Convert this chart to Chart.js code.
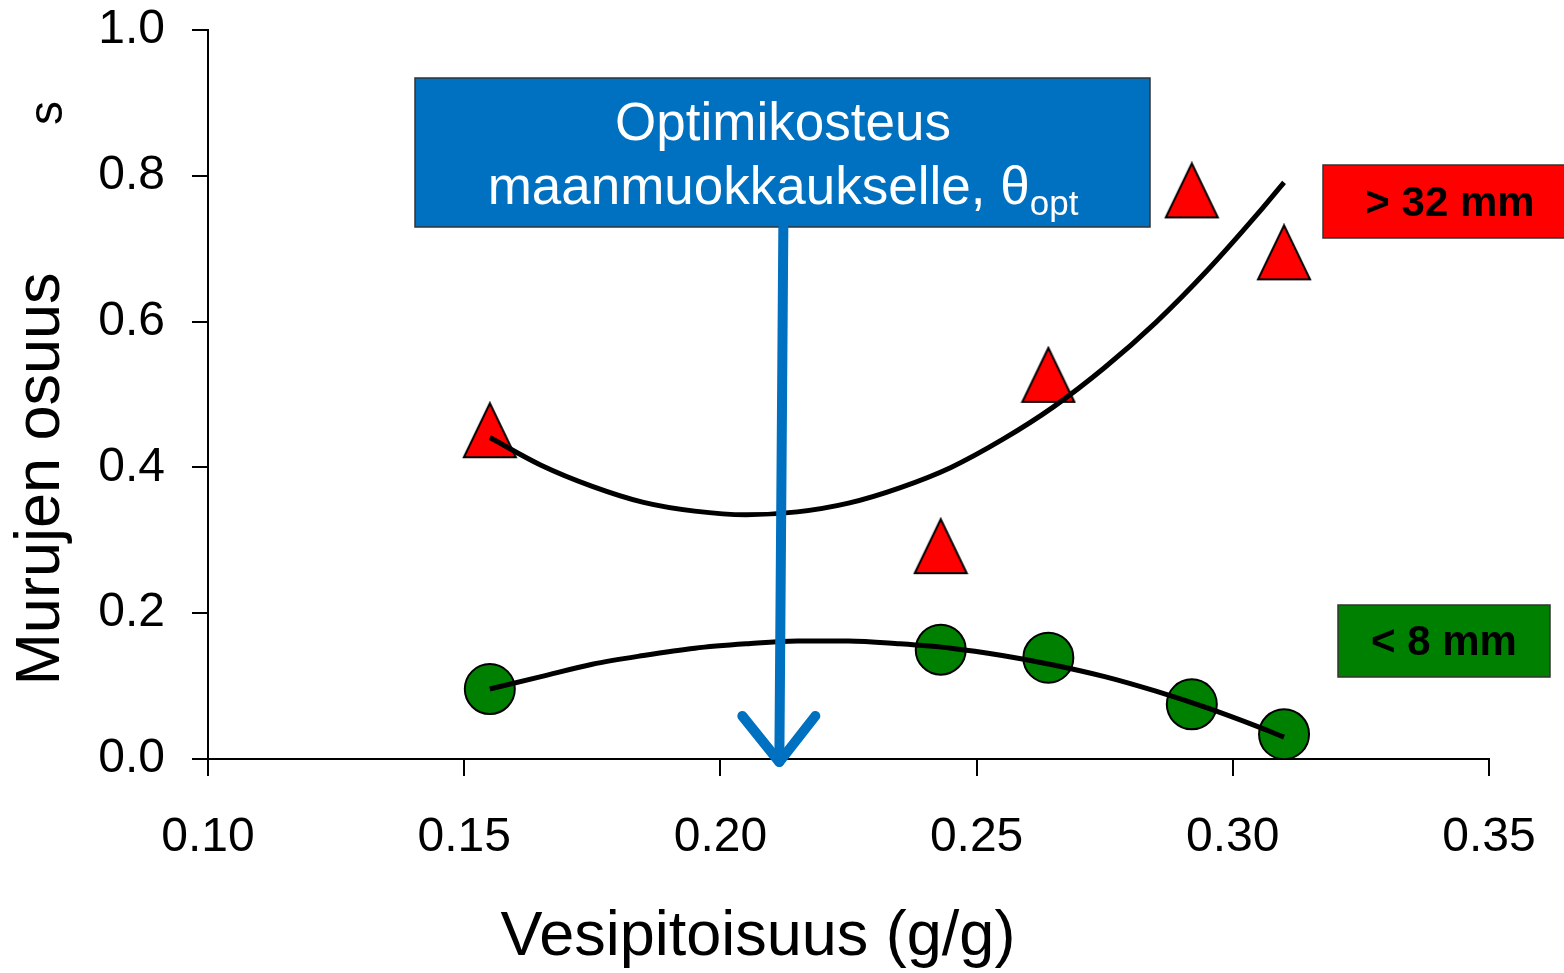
<!DOCTYPE html>
<html>
<head>
<meta charset="utf-8">
<script src="https://cdn.jsdelivr.net/npm/chart.js@4/dist/chart.umd.min.js"></script>
<style>
  html, body { margin: 0; padding: 0; background: #fff; }
  canvas { display: block; }
</style>
</head>
<body>
<canvas id="crumb-chart" width="1564" height="973"></canvas>
<script>
  'use strict';

  // Measured samples: water content (g/g) vs. share of crumbs
  const waterContent = [0.155, 0.243, 0.264, 0.292, 0.310];
  const coarseShare = [0.451, 0.292, 0.527, 0.780, 0.695]; // > 32 mm
  const fineShare = [0.096, 0.150, 0.139, 0.075, 0.034];   // < 8 mm

  // Trend lines
  const fitWater = [0.155, 0.165, 0.175, 0.185, 0.195, 0.205, 0.215, 0.225, 0.235,
    0.245, 0.255, 0.265, 0.275, 0.285, 0.295, 0.305, 0.310];
  const coarseFit = [0.441, 0.403, 0.374, 0.352, 0.340, 0.335, 0.339, 0.351, 0.372,
    0.400, 0.438, 0.483, 0.537, 0.599, 0.670, 0.749, 0.791];
  const fineFit = [0.096, 0.113, 0.130, 0.142, 0.152, 0.158, 0.162, 0.162, 0.158,
    0.152, 0.142, 0.129, 0.113, 0.093, 0.070, 0.044, 0.030];

  // Optimum water content the arrow points to
  const thetaOpt = 0.2115;

  // Axis ticks
  const xTickValues = [0.10, 0.15, 0.20, 0.25, 0.30, 0.35];
  const xTickLabels = ['0.10', '0.15', '0.20', '0.25', '0.30', '0.35'];
  const yTickValues = [0.0, 0.2, 0.4, 0.6, 0.8, 1.0];
  const yTickLabels = ['0.0', '0.2', '0.4', '0.6', '0.8', '1.0'];

  const xTitle = 'Vesipitoisuus (g/g)';
  const yTitle = 'Murujen osuus';

  const FONT = '"Liberation Sans", Arial, sans-serif';
  const BLUE = '#0070C0';

  function toPoints(xs, ys) {
    return xs.map((x, i) => ({ x: x, y: ys[i] }));
  }

  // Red triangle marker, a bit narrower than Chart.js' own triangle
  function makeTriangle() {
    const c = document.createElement('canvas');
    c.width = 56;
    c.height = 58;
    const g = c.getContext('2d');
    g.beginPath();
    g.moveTo(28, 2);
    g.lineTo(54, 56);
    g.lineTo(2, 56);
    g.closePath();
    g.fillStyle = '#FF0000';
    g.fill();
    g.lineWidth = 2;
    g.strokeStyle = '#000';
    g.stroke();
    return c;
  }

  const annotations = {
    id: 'annotations',
    afterDraw(chart) {
      const ctx = chart.ctx;
      const xScale = chart.scales.x;
      const yScale = chart.scales.y;
      ctx.save();

      // axis titles (off-centre in the original, so placed by hand)
      ctx.fillStyle = '#000';
      ctx.font = '63px ' + FONT;
      ctx.textAlign = 'center';
      ctx.textBaseline = 'middle';
      ctx.fillText(xTitle, 758, 938);

      ctx.save();
      ctx.translate(42, 479);
      ctx.rotate(-Math.PI / 2);
      ctx.fillText(yTitle, 0, 0);
      ctx.restore();

      // small rotated "s" left of the axis
      ctx.save();
      ctx.translate(49, 113);
      ctx.rotate(-Math.PI / 2);
      ctx.font = '48px ' + FONT;
      ctx.fillText('s', 0, 0);
      ctx.restore();

      // blue text box
      ctx.fillStyle = BLUE;
      ctx.fillRect(415, 78, 735, 149);
      ctx.lineWidth = 1.5;
      ctx.strokeStyle = '#333';
      ctx.strokeRect(415, 78, 735, 149);

      ctx.fillStyle = '#fff';
      ctx.textBaseline = 'alphabetic';
      ctx.textAlign = 'center';
      ctx.font = '53px ' + FONT;
      ctx.fillText('Optimikosteus', 783, 140);

      const main = 'maanmuokkaukselle, \u03b8';
      const sub = 'opt';
      ctx.font = '53px ' + FONT;
      const wMain = ctx.measureText(main).width;
      ctx.font = '35px ' + FONT;
      const wSub = ctx.measureText(sub).width;
      const startX = 783 - (wMain + wSub) / 2;
      ctx.textAlign = 'left';
      ctx.font = '53px ' + FONT;
      ctx.fillText(main, startX, 204);
      ctx.font = '35px ' + FONT;
      ctx.fillText(sub, startX + wMain, 215);

      // arrow down to the optimum
      const tipX = xScale.getPixelForValue(thetaOpt);
      const tipY = yScale.getPixelForValue(0) + 3;
      ctx.strokeStyle = BLUE;
      ctx.lineWidth = 10;
      ctx.lineCap = 'round';
      ctx.lineJoin = 'round';
      ctx.beginPath();
      ctx.moveTo(tipX + 4, 228);
      ctx.lineTo(tipX, tipY);
      ctx.stroke();
      ctx.beginPath();
      ctx.moveTo(tipX - 37, tipY - 46);
      ctx.lineTo(tipX, tipY);
      ctx.lineTo(tipX + 36, tipY - 46);
      ctx.stroke();

      // legend boxes
      ctx.lineCap = 'butt';
      ctx.lineJoin = 'miter';
      ctx.lineWidth = 1.5;
      ctx.strokeStyle = '#333';
      ctx.fillStyle = '#FF0000';
      ctx.fillRect(1323, 165, 260, 73);
      ctx.strokeRect(1323, 165, 260, 73);
      ctx.fillStyle = '#008000';
      ctx.fillRect(1338, 605, 212, 72);
      ctx.strokeRect(1338, 605, 212, 72);

      ctx.fillStyle = '#000';
      ctx.font = 'bold 42px ' + FONT;
      ctx.textAlign = 'center';
      ctx.textBaseline = 'middle';
      ctx.fillText('> 32 mm', 1450, 204);
      ctx.fillText('< 8 mm', 1444, 643);

      ctx.restore();
    }
  };

  const ctx = document.getElementById('crumb-chart').getContext('2d');

  new Chart(ctx, {
    type: 'scatter',
    data: {
      datasets: [
        {
          label: '> 32 mm trend',
          data: toPoints(fitWater, coarseFit),
          showLine: true,
          borderColor: '#000',
          borderWidth: 5,
          pointRadius: 0,
          cubicInterpolationMode: 'monotone',
          order: 1
        },
        {
          label: '< 8 mm trend',
          data: toPoints(fitWater, fineFit),
          showLine: true,
          borderColor: '#000',
          borderWidth: 5,
          pointRadius: 0,
          cubicInterpolationMode: 'monotone',
          order: 1
        },
        {
          label: '> 32 mm',
          data: toPoints(waterContent, coarseShare),
          pointStyle: makeTriangle(),
          pointRadius: 28,
          order: 2
        },
        {
          label: '< 8 mm',
          data: toPoints(waterContent, fineShare),
          pointStyle: 'circle',
          pointRadius: 25,
          backgroundColor: '#008000',
          borderColor: '#000',
          borderWidth: 2,
          order: 2
        }
      ]
    },
    options: {
      responsive: false,
      devicePixelRatio: 1,
      animation: false,
      layout: {
        padding: { left: 0, top: 30, right: 75, bottom: 0 }
      },
      plugins: {
        legend: { display: false },
        tooltip: { enabled: false }
      },
      scales: {
        x: {
          type: 'linear',
          min: 0.10,
          max: 0.35,
          afterFit: function (scale) {
            scale.height = 214;
            scale.paddingLeft = 0;
            scale.paddingRight = 0;
          },
          afterBuildTicks: function (scale) {
            scale.ticks = xTickValues.map(v => ({ value: v }));
          },
          border: { color: '#000', width: 2 },
          grid: {
            drawOnChartArea: false,
            drawTicks: true,
            tickLength: 17,
            color: '#000',
            lineWidth: 2
          },
          ticks: {
            color: '#000',
            padding: 33,
            maxRotation: 0,
            font: { family: FONT, size: 48 },
            callback: function (value, index) { return xTickLabels[index]; }
          }
        },
        y: {
          type: 'linear',
          min: 0,
          max: 1,
          afterFit: function (scale) {
            scale.width = 208;
            scale.paddingTop = 0;
            scale.paddingBottom = 0;
          },
          afterBuildTicks: function (scale) {
            scale.ticks = yTickValues.map(v => ({ value: v }));
          },
          border: { color: '#000', width: 2 },
          grid: {
            drawOnChartArea: false,
            drawTicks: true,
            tickLength: 16,
            color: '#000',
            lineWidth: 2
          },
          ticks: {
            color: '#000',
            padding: 27,
            font: { family: FONT, size: 48 },
            callback: function (value, index) { return yTickLabels[index]; }
          }
        }
      }
    },
    plugins: [annotations]
  });
</script>
</body>
</html>
